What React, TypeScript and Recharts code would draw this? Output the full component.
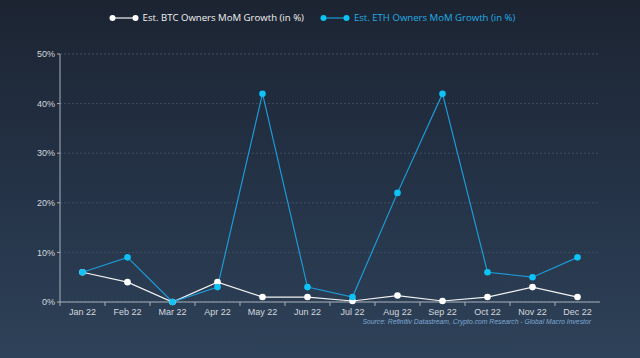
import { LineChart, Line, XAxis, YAxis, CartesianGrid } from 'recharts'

const months = ['Jan 22', 'Feb 22', 'Mar 22', 'Apr 22', 'May 22', 'Jun 22', 'Jul 22', 'Aug 22', 'Sep 22', 'Oct 22', 'Nov 22', 'Dec 22']
const btcGrowth = [6, 4, 0, 4, 1, 1, 0.2, 1.3, 0.2, 1, 3, 1]
const ethGrowth = [6, 9, 0, 3, 42, 3, 1, 22, 42, 6, 5, 9]
const yTicks = [0, 10, 20, 30, 40, 50]

const BTC_NAME = 'Est. BTC Owners MoM Growth (in %)'
const ETH_NAME = 'Est. ETH Owners MoM Growth (in %)'
const BTC_COLOR = '#f2f2f2'
const ETH_LINE = '#1d9ad6'
const ETH_DOT = '#0ec3f5'
const HALF_BAND = 22.5

const data = months.map((m, i) => ({ month: m, btc: btcGrowth[i], eth: ethGrowth[i] }))

// label under the point, tick mark on the left edge of the band
function MonthTick(props: any) {
  const { x, y, payload } = props
  return (
    <g>
      <line x1={x - HALF_BAND} x2={x - HALF_BAND} y1={y} y2={y + 4} stroke="#a8b0bb" strokeWidth={1} />
      <text x={x} y={y + 13} textAnchor="middle" fill="#d3d8de" fontSize={9} fontFamily="Liberation Sans, Arial, sans-serif">
        {payload.value}
      </text>
    </g>
  )
}

function LegendItem({ label, line, dot, text }: { label: string; line: string; dot: string; text: string }) {
  return (
    <div style={{ display: 'flex', alignItems: 'center', marginRight: 16 }}>
      <svg width={30} height={8} style={{ marginRight: 4 }}>
        <line x1={3} x2={27} y1={4} y2={4} stroke={line} strokeWidth={1.2} />
        <circle cx={3.5} cy={4} r={3} fill={dot} />
        <circle cx={26.5} cy={4} r={3} fill={dot} />
      </svg>
      <span style={{ color: text }}>{label}</span>
    </div>
  )
}

export default function App() {
  return (
    <div
      style={{
        position: 'fixed',
        left: 0,
        top: 0,
        width: 640,
        height: 358,
        background: 'linear-gradient(180deg, #1c2432 0%, #243246 50%, #2e4259 100%)',
        overflow: 'hidden',
      }}
    >
      <div
        style={{
          position: 'absolute',
          top: 11,
          left: 0,
          width: 640,
          display: 'flex',
          justifyContent: 'center',
          fontFamily: 'Open Sans, sans-serif',
          fontSize: 9.6,
          paddingLeft: 0,
          boxSizing: 'border-box',
        }}
      >
        <LegendItem label={BTC_NAME} line={BTC_COLOR} dot="#ffffff" text="#f2f2f2" />
        <LegendItem label={ETH_NAME} line={ETH_LINE} dot={ETH_DOT} text="#22aee6" />
      </div>

      <LineChart width={640} height={358} data={data} margin={{ top: 54, right: 40, left: 0, bottom: 26 }}>
        <CartesianGrid horizontal vertical={false} stroke="#3f4e61" strokeDasharray="2 2" />
        <XAxis
          dataKey="month"
          tick={<MonthTick />}
          tickLine={false}
          tickSize={0}
          tickMargin={0}
          padding={{ left: HALF_BAND, right: HALF_BAND }}
          axisLine={{ stroke: '#a8b0bb' }}
          interval={0}
          height={30}
        />
        <YAxis
          ticks={yTicks}
          domain={[0, 50]}
          width={60}
          tickSize={3}
          tickMargin={2}
          tickLine={{ stroke: '#a8b0bb' }}
          axisLine={{ stroke: '#a8b0bb' }}
          tickFormatter={(v: number) => `${v}%`}
          tick={{ fill: '#d3d8de', fontSize: 9, fontFamily: 'Liberation Sans, Arial, sans-serif' }}
        />
        <Line
          type="linear"
          dataKey="btc"
          name={BTC_NAME}
          stroke={BTC_COLOR}
          strokeWidth={1.2}
          dot={{ r: 3.3, fill: '#ffffff', stroke: 'none' }}
          isAnimationActive={false}
        />
        <Line
          type="linear"
          dataKey="eth"
          name={ETH_NAME}
          stroke={ETH_LINE}
          strokeWidth={1.2}
          dot={{ r: 3.3, fill: ETH_DOT, stroke: 'none' }}
          isAnimationActive={false}
        />
      </LineChart>

      <div
        style={{
          position: 'absolute',
          right: 49,
          top: 318,
          fontFamily: 'Liberation Sans, Arial, sans-serif',
          fontStyle: 'italic',
          fontSize: 6.8,
          color: '#7fa9d3',
        }}
      >
        Source: Refinitiv Datastream, Crypto.com Research - Global Macro Investor
      </div>
    </div>
  )
}
